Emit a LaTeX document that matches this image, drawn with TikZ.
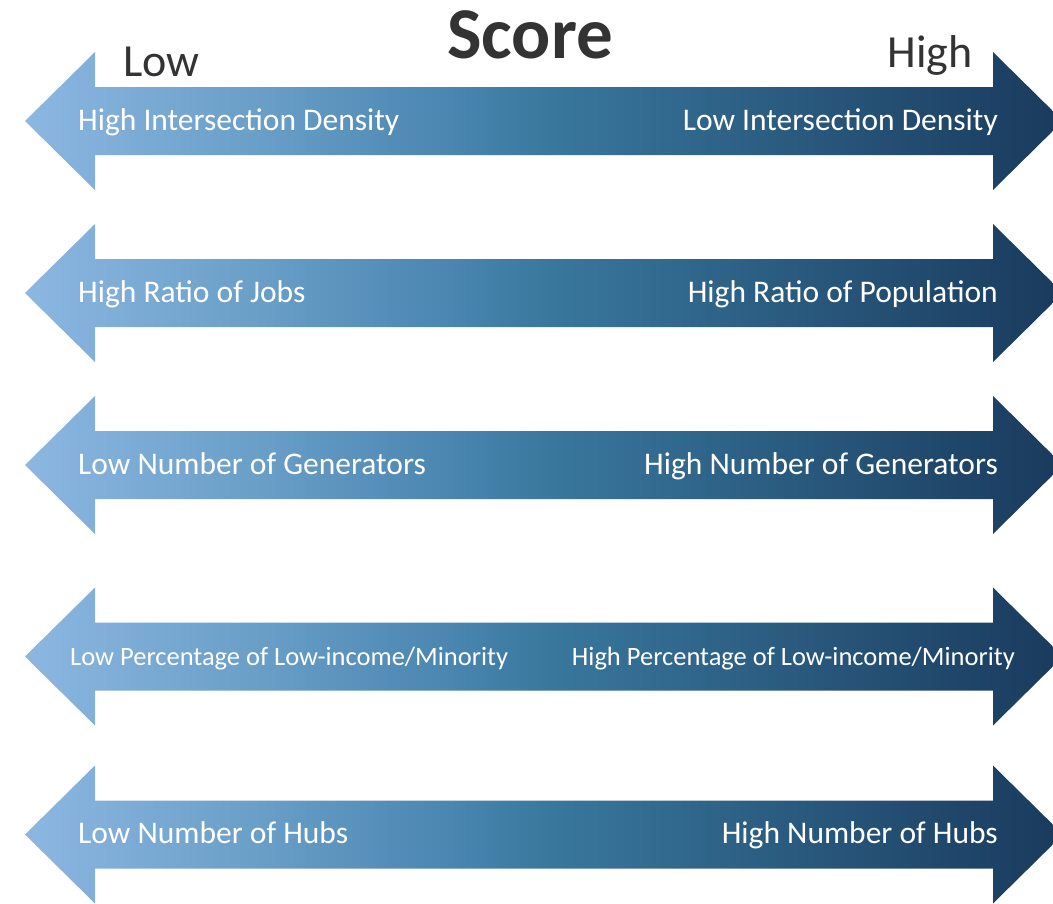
\documentclass[tikz,border=0pt]{standalone}
\usepackage{fontspec}
\setmainfont{Carlito}
\definecolor{scorelight}{HTML}{8CB7E1}
\definecolor{scorepale}{HTML}{6A9FC8}
\definecolor{scoresteel}{HTML}{4A86B0}
\definecolor{scoremid}{HTML}{3A789E}
\definecolor{scoreblue}{HTML}{1F4669}
\definecolor{scoredark}{HTML}{1A3A5D}
\definecolor{scoregray}{HTML}{333333}

% light-to-dark fill along the arrows
\pgfdeclarehorizontalshading{scoreband}{100bp}{
  color(0bp)=(scorelight); color(25bp)=(scorelight); color(36bp)=(scorepale);
  color(45.5bp)=(scoresteel); color(50bp)=(scoremid); color(70bp)=(scoreblue);
  color(75bp)=(scoredark); color(100bp)=(scoredark)}

\begin{document}
\begin{tikzpicture}[
    x=1pt, y=-1pt,
    band/.style={shading=scoreband},
    tag/.style={text=white, inner sep=0pt, font=\fontsize{#1}{#1}\selectfont},
    tag/.default=31.5,
    heading/.style={text=scoregray, inner sep=0pt, font=\fontsize{46}{50}\selectfont},
]
\useasboundingbox (0,0) rectangle (1053,903);

% Title and the two ends of the scale
\node[heading, font=\bfseries\fontsize{73}{80}\selectfont, anchor=base] (score) at (530,58) {Score};
\node[heading, anchor=base west] (low) at (123,76) {Low};
\node[heading, anchor=base east] (high) at (973,67) {High};

% Double arrows with the criteria at either end
\foreach \y/\fs/\lx/\rx/\lo/\hi [count=\i] in {
    121/31.5/78/998/{High Intersection Density}/{Low Intersection Density},
    293/31.5/78/998/{High Ratio of Jobs}/{High Ratio of Population},
    465/31.5/78/998/{Low Number of Generators}/{High Number of Generators},
    656.5/26.5/70/1015/{Low Percentage of Low-income/Minority}/{High Percentage of Low-income/Minority},
    834.5/31.5/78/998/{Low Number of Hubs}/{High Number of Hubs}} {
  \shade[band] (25,\y) -- (95,\y-69) -- (95,\y-34) -- (993,\y-34) -- (993,\y-69)
    -- (1063,\y) -- (993,\y+69) -- (993,\y+34) -- (95,\y+34) -- (95,\y+69) -- cycle;
  \node[tag=\fs, anchor=base west] (lo\i) at (\lx,\y+9) {\lo};
  \node[tag=\fs, anchor=base east] (hi\i) at (\rx,\y+9) {\hi};
}

\end{tikzpicture}
\end{document}
